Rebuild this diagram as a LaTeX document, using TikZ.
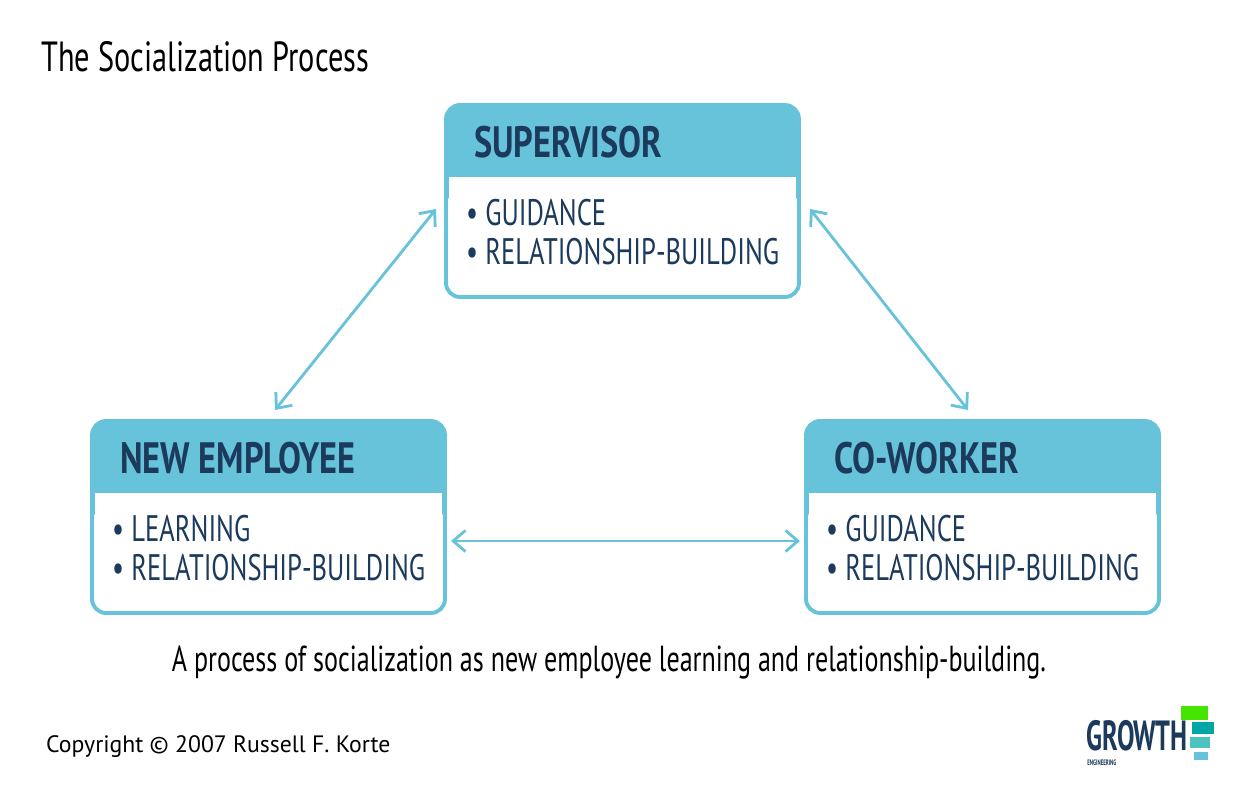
\documentclass[tikz,border=0pt]{standalone}
\usepackage{fontspec}
\usetikzlibrary{arrows.meta}
\setmainfont{PT Sans}
\newfontfamily\cond[FakeStretch=0.72]{PT Sans}
\newfontfamily\condb[FakeStretch=0.78,BoldFont={PT Sans Bold}]{PT Sans}
\newfontfamily\condl[FakeStretch=0.62,BoldFont={PT Sans Bold}]{PT Sans}
\definecolor{hdr}{HTML}{67C3DA}
\definecolor{navy}{HTML}{1B3A5C}
\begin{document}
\begin{tikzpicture}[x=0.02cm,y=-0.02cm,
  hd/.style={font=\condb\bfseries\fontsize{25}{28}\selectfont,text=navy,anchor=west},
  it/.style={font=\cond\fontsize{21}{24}\selectfont,text=navy,anchor=west},
  arr/.style={draw=hdr,line width=1.6pt,{Straight Barb[length=7pt,width=12pt]}-{Straight Barb[length=7pt,width=12pt]}}]
\useasboundingbox (0,0) rectangle (1250,793);
\fill[white] (0,0) rectangle (1250,793);
\node[anchor=west,font=\cond\fontsize{24}{28}\selectfont] (title) at (35,57) {The Socialization Process};
\newcommand\mybox[5]{%
 \fill[hdr,rounded corners=8] (#1,#2) rectangle (#1+353,#2+100);
 \fill[white] (#1+3,#2+72) rectangle (#1+350,#2+189);
 \draw[hdr,line width=2.2pt,rounded corners=8] (#1,#2) rectangle (#1+353,#2+192);
 \node[hd] (#5h) at (#1+22,#2+37) {#3};
 \node[it] (#5a) at (#1+14,#2+108) {• #4};
 \node[it] (#5b) at (#1+14,#2+147) {• RELATIONSHIP-BUILDING};
 \coordinate (#5) at (#1,#2);}
\mybox{446}{105}{SUPERVISOR}{GUIDANCE}{sup}
\mybox{92}{421}{NEW EMPLOYEE}{LEARNING}{ne}
\mybox{806}{421}{CO-WORKER}{GUIDANCE}{cw}
\coordinate (a1) at (436,209); \coordinate (a2) at (275,410);
\coordinate (b1) at (810,209); \coordinate (b2) at (968,410);
\coordinate (c1) at (451,541); \coordinate (c2) at (800,541);
\draw[arr] (a1) -- (a2);
\draw[arr] (b1) -- (b2);
\draw[arr] (c1) -- (c2);
\node[font=\cond\fontsize{20.6}{24}\selectfont] (cap) at (609,662) {A process of socialization as new employee learning and relationship-building.};
\node[anchor=west,font=\fontsize{13.5}{16}\selectfont] (copy) at (40,747) {Copyright © 2007 Russell F. Korte};
% logo
\fill[green!60!lime!90!black] (1181,706) rectangle (1208,720);
\fill[teal!70!cyan] (1192,722) rectangle (1214,734);
\fill[cyan!60!green!70] (1190,737) rectangle (1210,748);
\fill[hdr] (1194,752) rectangle (1208,760);
\node[anchor=west,inner sep=0,font=\condl\bfseries\fontsize{24}{26}\selectfont,text=navy] (logo) at (1086,736) {GROWTH};
\node[anchor=west,inner sep=0,font=\condl\fontsize{4.5}{5}\selectfont\bfseries,text=navy] (logo2) at (1087,763) {ENGINEERING};
\end{tikzpicture}
\end{document}
